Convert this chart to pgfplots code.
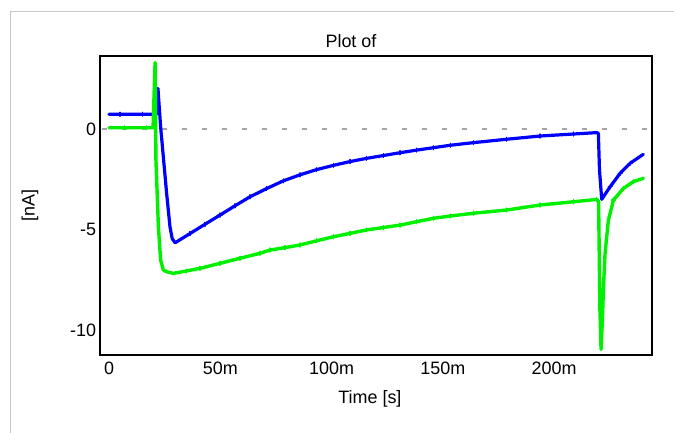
\documentclass[border=0pt]{standalone}
\usepackage{pgfplots}
\pgfplotsset{compat=1.18}
\usepackage{fontspec}
\setmainfont{Liberation Sans}

\definecolor{trA}{RGB}{0,0,255}
\definecolor{trB}{RGB}{0,240,0}
\definecolor{zeroline}{RGB}{165,165,165}
\definecolor{panelframe}{RGB}{200,200,200}

\begin{document}
\begin{tikzpicture}
\path[use as bounding box] (0bp,0bp) rectangle (674bp,433bp);
\draw[panelframe, line width=1.2bp] (10.5bp,0bp) -- (10.5bp,421.5bp) -- (674bp,421.5bp);
\begin{axis}[
  at={(100bp,78bp)}, anchor=south west,
  scale only axis, width=552bp, height=299bp,
  xmin=-4.04, xmax=244.0, ymin=-11.24, ymax=3.63,
  axis line style={line width=1.6bp},
  major tick length=0pt,
  xtick={0,50,100,150,200},
  xticklabels={0,50m,100m,150m,200m},
  ytick={-10,-5,0},
  /pgf/number format/assume math mode=true,
  tick label style={font=\fontsize{18}{21}\selectfont},
  xticklabel style={yshift=-3.5bp},
  yticklabel style={xshift=-0.5bp},
  title={Plot of},
  title style={at={(axis description cs:0.4547,1)}, anchor=base, yshift=3bp,
    font=\fontsize{18}{21}\selectfont},
  xlabel={Time [s]},
  every axis x label/.style={at={(axis description cs:0.489,0)}, anchor=base,
    yshift=-48bp, font=\fontsize{18}{21}\selectfont},
  ylabel={[nA]},
  every axis y label/.style={at={(axis description cs:-0.1268,0.5)}, rotate=90,
    anchor=center, font=\fontsize{18}{21}\selectfont},
  clip=true,
]
% zero reference
\addplot[zeroline, line width=2bp, dash pattern=on 5bp off 15bp] coordinates {(-3.28,0) (244,0)};

% blue trace
\addplot[trA, line width=3.2bp, line join=round, line cap=round,
  mark=+, mark size=2bp, mark options={line width=1.3bp},
  mark indices={2,3,12,13,14,15,16,17,18,19,20,21,22,23,24,25,26,27,28,29,30,31,32,37,38,39}]
coordinates {
(0,0.73) (5,0.73) (15,0.73) (19.8,0.73) (21.4,0.73) (22.0,2.02) (23.2,0.11) (25.9,-3.20)
(27.4,-4.86) (28.4,-5.45) (29.7,-5.66) (36.4,-5.20) (43.1,-4.74) (49.9,-4.28)
(56.6,-3.82) (63.4,-3.37) (70.9,-2.96) (78.3,-2.58) (85.8,-2.28) (93.3,-2.02)
(100.8,-1.81) (108.3,-1.62) (115.8,-1.46) (123.3,-1.32) (130.8,-1.18) (138.3,-1.05)
(145.8,-0.93) (153.3,-0.81) (163.7,-0.68) (178.7,-0.51) (193.7,-0.35) (208.7,-0.25)
(219.2,-0.18) (219.9,-0.22) (220.4,-2.04) (221.4,-3.50) (225.2,-2.87) (229.7,-2.20)
(234.2,-1.70) (240.1,-1.26)
};

% green trace
\addplot[trB, line width=3.4bp, line join=round, line cap=round,
  mark=+, mark size=2bp, mark options={line width=1.3bp},
  mark indices={2,3,12,13,14,15,16,17,18,19,20,21,22,23,24,25,26,27,28,29,30,31,32,33,41,42,43}]
coordinates {
(0,0.06) (7,0.06) (17,0.06) (19.8,0.06) (20.7,3.30) (21.1,-1.54) (22.2,-4.86)
(23.2,-6.52) (24.4,-7.01) (25.9,-7.10) (28.9,-7.18) (34.9,-7.06) (40.9,-6.93)
(49.9,-6.68) (58.9,-6.43) (67.9,-6.18) (72.4,-6.02) (79.1,-5.90) (85.8,-5.77)
(93.3,-5.56) (100.8,-5.36) (108.3,-5.19) (115.8,-5.02) (123.3,-4.90) (130.8,-4.78)
(138.3,-4.61) (145.8,-4.44) (153.3,-4.33) (163.7,-4.19) (178.7,-4.03) (193.7,-3.78)
(208.7,-3.62) (219.2,-3.50) (220.0,-3.60) (220.6,-9.0) (221.1,-10.96) (221.7,-9.5)
(222.2,-7.85) (222.9,-6.19) (224.4,-4.53) (226.7,-3.53) (231.2,-2.95) (235.6,-2.62)
(240.1,-2.45)
};
\end{axis}
\end{tikzpicture}
\end{document}
